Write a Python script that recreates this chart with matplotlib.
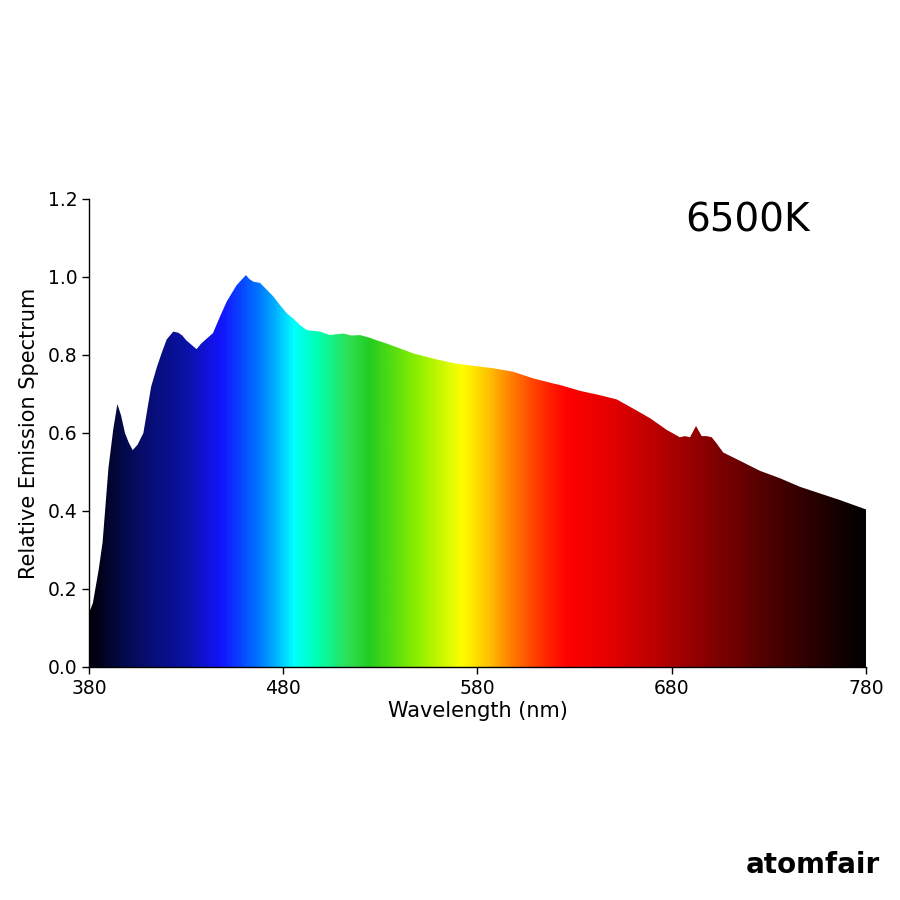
import matplotlib
matplotlib.use("Agg")
import matplotlib.pyplot as plt
import numpy as np
from matplotlib.colors import LinearSegmentedColormap

# ── Data ──────────────────────────────────────────────────────────────────────

WAVELENGTH = [380, 382, 385, 387, 390, 392.5, 394.6, 396.5, 398.5, 400.5,
              402.5, 405, 408, 410, 412, 415, 417.4, 420, 423.4, 426,
              428, 430, 433, 435.4, 437.5, 439.7, 443.8, 447.4, 450.9, 456,
              460.8, 462.5, 464.6, 468, 471, 474.9, 478.3, 481.8, 485, 488.6,
              492, 495, 499, 504, 507, 511, 515, 519.5, 524, 528,
              534, 540, 547, 557, 567.6, 578, 588, 598.4, 608.7, 619,
              622.5, 632.8, 643, 651.7, 660, 668.8, 677.4, 684.2, 686.8, 689.4,
              692.5, 695.4, 698, 700.6, 703, 706.5, 715, 725.4, 735.7, 746,
              756.3, 766.6, 780]
EMISSION = [0.138, 0.164, 0.25, 0.32, 0.51, 0.61, 0.674, 0.645, 0.60, 0.575,
            0.556, 0.57, 0.60, 0.66, 0.719, 0.77, 0.805, 0.84, 0.86, 0.857,
            0.85, 0.838, 0.825, 0.815, 0.828, 0.838, 0.856, 0.898, 0.937, 0.979,
            1.005, 0.995, 0.988, 0.985, 0.97, 0.95, 0.928, 0.907, 0.894, 0.877,
            0.864, 0.862, 0.86, 0.851, 0.853, 0.855, 0.85, 0.851, 0.845, 0.838,
            0.828, 0.817, 0.804, 0.791, 0.779, 0.772, 0.766, 0.757, 0.74, 0.727,
            0.723, 0.708, 0.697, 0.686, 0.663, 0.638, 0.608, 0.589, 0.592, 0.589,
            0.618, 0.592, 0.592, 0.589, 0.574, 0.55, 0.529, 0.503, 0.484, 0.462,
            0.445, 0.428, 0.404]

# approximate rendered colour of each wavelength (gradient stops)
STOP_WL = [380, 398, 430, 448, 466, 476, 485, 497, 514, 524,
           548, 572, 586, 600, 617, 627, 648, 699, 733, 780]
STOP_COLOR = ["#000008", "#050a50", "#0a12a8", "#1414ff", "#0070ff", "#00b4ff",
              "#00ffff", "#00ffb4", "#30dd50", "#22cc22", "#88ee00", "#ffff00",
              "#ffc000", "#ff7000", "#ff2000", "#ff0000", "#e60000", "#880000",
              "#4a0000", "#000000"]

X_TICKS = [380, 480, 580, 680, 780]
Y_TICKS = [0.0, 0.2, 0.4, 0.6, 0.8, 1.0, 1.2]

# ── Figure ────────────────────────────────────────────────────────────────────

fig = plt.figure(figsize=(9, 9), dpi=100)
fig.patch.set_facecolor("white")
ax = fig.add_axes([0.0989, 0.2589, 0.8633, 0.52])

wl_min, wl_max = STOP_WL[0], STOP_WL[-1]
cmap = LinearSegmentedColormap.from_list(
    "spectrum",
    [((w - wl_min) / (wl_max - wl_min), c) for w, c in zip(STOP_WL, STOP_COLOR)],
)

poly = ax.fill_between(WAVELENGTH, EMISSION, 0, color="none", linewidth=0)
gradient = np.linspace(0, 1, 1000).reshape(1, -1)
img = ax.imshow(gradient, cmap=cmap, aspect="auto",
                extent=[wl_min, wl_max, 0, 1.2], origin="lower",
                interpolation="bilinear", zorder=2)
clip = poly.get_paths()[0]
img.set_clip_path(clip, transform=ax.transData)

ax.set_xlim(380, 780)
ax.set_ylim(0, 1.2)
ax.set_xticks(X_TICKS)
ax.set_yticks(Y_TICKS)
ax.set_yticklabels([f"{v:.1f}" for v in Y_TICKS])
ax.tick_params(labelsize=13.5, length=5, width=1, colors="black")
for side in ("top", "right"):
    ax.spines[side].set_visible(False)
ax.spines["left"].set_linewidth(1)
ax.spines["bottom"].set_linewidth(1)

ax.set_xlabel("Wavelength (nm)", fontsize=15, labelpad=2)
ax.set_ylabel("Relative Emission Spectrum", fontsize=15, labelpad=6)

ax.text(0.848, 0.955, "6500K", transform=ax.transAxes, fontsize=28,
        ha="center", va="center", color="black")

fig.text(0.978, 0.03, "atomfair", ha="right", va="baseline",
         fontsize=20, fontweight="bold", color="black")

fig.savefig("out.png", dpi=100, facecolor="white")
plt.close()
